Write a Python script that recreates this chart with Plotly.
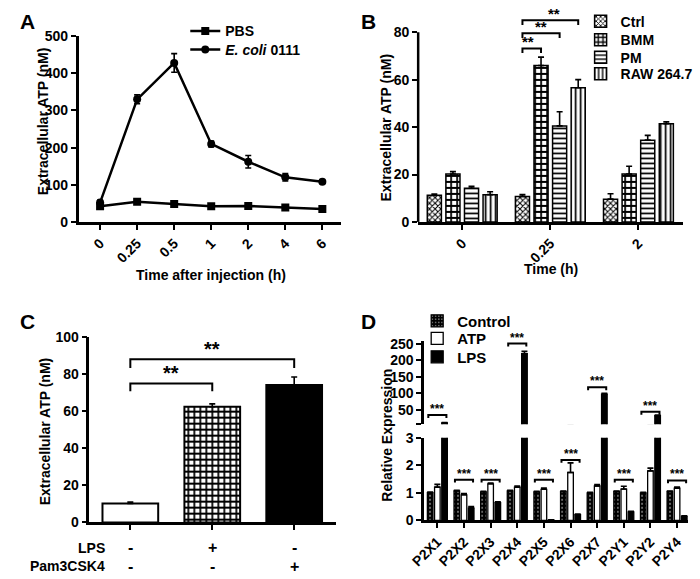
import plotly.graph_objects as go

FONT = "Liberation Sans, Arial, sans-serif"

# ---- panel A data ----
times_a = ["0", "0.25", "0.5", "1", "2", "4", "6"]
pbs = [42, 54, 48, 42, 43, 39, 35]
pbs_err = [3, 3, 3, 2, 2, 2, 2]
ecoli = [52, 330, 428, 210, 162, 120, 108]
ecoli_err = [6, 12, 25, 8, 17, 10, 4]

# ---- panel B data ----
times_b = ["0", "0.25", "2"]
b_names = ["Ctrl", "BMM", "PM", "RAW 264.7"]
b_ctrl = [11.2, 10.7, 9.6]
b_ctrl_err = [0.6, 0.8, 2.3]
b_bmm = [20.2, 66.0, 20.2]
b_bmm_err = [1.0, 3.5, 3.3]
b_pm = [14.2, 40.5, 34.5]
b_pm_err = [0.8, 6.0, 2.0]
b_raw = [11.5, 56.6, 41.4]
b_raw_err = [1.2, 3.4, 0.8]

# ---- panel C data ----
c_values = [10.2, 62.3, 74.0]
c_err = [0.8, 1.5, 4.3]
c_lps = ["-", "+", "-"]
c_pam = ["-", "-", "+"]

# ---- panel D data ----
receptors = ["P2X1", "P2X2", "P2X3", "P2X4", "P2X5", "P2X6", "P2X7", "P2Y1", "P2Y2", "P2Y4"]
d_control = [1.01, 1.07, 1.04, 1.07, 1.04, 1.05, 1.0, 1.05, 1.0, 1.05]
d_control_err = [0.02] * 10
d_atp = [1.21, 0.93, 1.33, 1.21, 1.13, 1.74, 1.25, 1.14, 1.8, 1.17]
d_atp_err = [0.1, 0.05, 0.03, 0.04, 0.05, 0.35, 0.05, 0.1, 0.1, 0.04]
d_lps = [10, 0.45, 0.65, 220, 0.02, 0.21, 97, 0.31, 32, 0.15]
d_lps_err = [1, 0.05, 0.03, 7, 0, 0.02, 3, 0.02, 2, 0.02]

W, H = 700, 579
fig = go.Figure()
legends = {}
leg_count = [0]


def new_legend(xc, yc, size):
    # one legend per entry so rows sit where the reference puts them
    leg_count[0] += 1
    name = "legend" if leg_count[0] == 1 else f"legend{leg_count[0]}"
    legends[name] = dict(x=(xc - 30) / W, y=1 - yc / H, xanchor="left", yanchor="middle",
                         bgcolor="rgba(0,0,0,0)", font=dict(size=size), borderwidth=0)
    return name


def up_err(err):
    return dict(type="data", array=err, arrayminus=[0] * len(err), symmetric=False,
                color="black", thickness=1.6, width=3)


# A: time course
for nm, vals, err, sym, yc in [("PBS", pbs, pbs_err, "square", 24),
                               ("<i>E. coli</i> 0111", ecoli, ecoli_err, "circle", 43)]:
    fig.add_trace(go.Scatter(
        x=list(range(len(times_a))), y=vals, name=nm, mode="lines+markers",
        line=dict(color="black", width=2.5), marker=dict(symbol=sym, size=8, color="black"),
        error_y=dict(type="data", array=err, color="black", thickness=1.6, width=3),
        xaxis="x", yaxis="y", legend=new_legend(204, yc, 14)))

# B: grouped patterned bars
b_series = [(b_ctrl, b_ctrl_err, "x", 4, 0.45), (b_bmm, b_bmm_err, "+", 6, 0.5),
            (b_pm, b_pm_err, "-", 5, 0.35), (b_raw, b_raw_err, "|", 5, 0.35)]
b_rows = [14, 33, 51, 68]
b_slot, b_w = 0.211, 0.16
for k, (vals, err, shp, sz, sol) in enumerate(b_series):
    fig.add_trace(go.Bar(
        x=list(range(len(times_b))), y=vals, name=b_names[k], width=b_w,
        offset=(k - 1.5) * b_slot - b_w / 2,
        marker=dict(color="white", line=dict(color="black", width=1.5),
                    pattern=dict(shape=shp, size=sz, solidity=sol, fgcolor="black",
                                 bgcolor="white", fillmode="replace")),
        error_y=up_err(err), xaxis="x2", yaxis="y2", legend=new_legend(608, b_rows[k], 14)))

# C: three bars, one trace each for its own fill
c_w = 0.68
c_styles = [("white", ""), ("white", "+"), ("black", "")]
for i, (col, shp) in enumerate(c_styles):
    fig.add_trace(go.Bar(
        x=[i], y=[c_values[i]], width=c_w, offset=-c_w / 2, showlegend=False,
        marker=dict(color=col, line=dict(color="black", width=2),
                    pattern=dict(shape=shp, size=6, solidity=0.5, fgcolor="black",
                                 bgcolor=col, fillmode="replace")),
        error_y=up_err([c_err[i]]), xaxis="x3", yaxis="y3"))

# D: broken-axis grouped bars (lower 0-3, upper segment)
d_slot, d_w = 0.27, 0.21
d_series = [("Control", d_control, d_control_err, "black", "."),
            ("ATP", d_atp, d_atp_err, "white", ""),
            ("LPS", d_lps, d_lps_err, "black", "")]
d_rows = [322, 340, 359]
for k, (nm, vals, err, col, shp) in enumerate(d_series):
    pat = dict(shape=shp, size=4, solidity=0.12, fgcolor="white", bgcolor=col, fillmode="replace")
    lg = new_legend(441, d_rows[k], 15)
    for ya, show in (("y4", True), ("y5", False)):
        fig.add_trace(go.Bar(
            x=list(range(len(receptors))), y=vals, name=nm, width=d_w,
            offset=(k - 1) * d_slot - d_w / 2, showlegend=show,
            marker=dict(color=col, line=dict(color="black", width=1.3), pattern=pat),
            error_y=up_err(err), xaxis="x4", yaxis=ya, legend=lg))

shapes = []
annotations = []


def bracket(xr, yr, x0, x1, y, leg, text, size, shift, xshift=0):
    shapes.append(dict(type="path", xref=xr, yref=yr,
                       path=f"M{x0},{y - leg} L{x0},{y} L{x1},{y} L{x1},{y - leg}",
                       line=dict(color="black", width=2)))
    annotations.append(dict(xref=xr, yref=yr, x=(x0 + x1) / 2, y=y, text=text, showarrow=False,
                            xanchor="center", yanchor="bottom", xshift=xshift,
                            font=dict(size=size, color="black"), yshift=shift))


# B significance (0.25 h group)
for k, y in zip([1, 2, 3], [73.2, 79.6, 85.1]):
    bracket("x2", "y2", 1 - 1.5 * b_slot, 1 + (k - 1.5) * b_slot, y, 2.0, "**", 15, -4,
            xshift=(k - 2) * 4)
# C significance
bracket("x3", "y3", 0, 1, 74.8, 4.2, "**", 20, -3)
bracket("x3", "y3", 0, 2, 87.8, 4.7, "**", 20, -3)
# D significance
d_br = [(0, 34, "y5"), (1, 1.48, "y4"), (2, 1.48, "y4"), (3, 251, "y5"), (4, 1.48, "y4"),
        (5, 2.19, "y4"), (6, 118, "y5"), (7, 1.48, "y4"), (8, 44, "y5"), (9, 1.45, "y4")]
for i, y, ya in d_br:
    leg = 0.1 if ya == "y4" else 9
    bracket("x4", ya, i - d_slot - 0.07, i + d_slot + 0.07, y, leg, "***", 12, -3)

# axis line for panel B drawn only up to 80
shapes.append(dict(type="line", xref="x2 domain", yref="y2", x0=0, x1=0, y0=0, y1=80,
                   line=dict(color="black", width=2.5)))

# C condition labels
for i in range(3):
    for signs, py in ((c_lps, 555), (c_pam, 574)):
        annotations.append(dict(xref="x3", yref="paper", x=i, y=1 - py / H, text=signs[i],
                                xanchor="center", yanchor="middle", showarrow=False,
                                font=dict(size=16)))
for txt, py in [("LPS", 555), ("Pam3CSK4", 574)]:
    annotations.append(dict(xref="paper", yref="paper", x=94 / W, y=1 - py / H, text=txt,
                            xanchor="right", yanchor="middle", showarrow=False, font=dict(size=14)))

# panel letters and axis titles
for txt, px, py in [("A", 3, 14), ("B", 352, 14), ("C", 3, 322), ("D", 352, 322)]:
    annotations.append(dict(xref="paper", yref="paper", x=px / W, y=1 - py / H, text=txt,
                            xanchor="left", yanchor="middle", showarrow=False, font=dict(size=21)))
for txt, px, py, ang in [("Extracellular ATP (nM)", 28, 116, -90),
                         ("Time after injection (h)", 200, 275, 0),
                         ("Extracellular ATP (nM)", 379, 123, -90),
                         ("Time (h)", 548, 268, 0),
                         ("Extracellular ATP (nM)", 31, 435, -90),
                         ("Relative Expression", 380, 439, -90)]:
    annotations.append(dict(xref="paper", yref="paper", x=px / W, y=1 - py / H, text=txt,
                            xanchor="center", yanchor="middle",
                            textangle=ang, showarrow=False, font=dict(size=14)))

ax = dict(showline=True, linecolor="black", linewidth=2.5, ticks="outside", tickwidth=2,
          ticklen=5, tickcolor="black", showgrid=False, zeroline=False,
          tickfont=dict(size=14, color="black"))


def px_dom(a, b):
    return [a / W, b / W]


def py_dom(bottom, top):
    return [1 - bottom / H, 1 - top / H]


fig.update_layout(
    width=W, height=H, autosize=False, margin=dict(l=0, r=0, t=0, b=0),
    paper_bgcolor="white", plot_bgcolor="white",
    font=dict(family=FONT, color="black", size=14, weight="bold"),
    barmode="overlay", shapes=shapes, annotations=annotations,
    xaxis=dict(ax, domain=px_dom(65, 333), range=[-0.58, 6.5], anchor="y",
               tickvals=list(range(len(times_a))), ticktext=times_a, tickangle=-45),
    yaxis=dict(ax, domain=py_dom(220, 29), range=[0, 500], anchor="x",
               tickvals=[0, 100, 200, 300, 400, 500]),
    xaxis2=dict(ax, domain=px_dom(412, 683), range=[-0.5, 2.51], anchor="y2",
                tickvals=list(range(len(times_b))), ticktext=times_b, tickangle=-45),
    yaxis2=dict(ax, domain=py_dom(220, 3), range=[0, 89], anchor="x2",
                tickvals=[0, 20, 40, 60, 80], showline=False),
    xaxis3=dict(ax, domain=px_dom(76, 328), range=[-0.5, 2.51], anchor="y3",
                tickvals=[0, 1, 2], showticklabels=False),
    yaxis3=dict(ax, domain=py_dom(529, 338), range=[0, 100], anchor="x3",
                tickvals=[0, 20, 40, 60, 80, 100]),
    xaxis4=dict(ax, domain=px_dom(418, 688), range=[-0.5, 9.42], anchor="y4",
                tickvals=list(range(len(receptors))), ticktext=receptors, tickangle=-45),
    yaxis4=dict(ax, domain=py_dom(527, 442), range=[0, 3], anchor="x4",
                tickvals=[0, 1, 2, 3]),
    yaxis5=dict(ax, domain=py_dom(428, 342), range=[6, 260], anchor="x4",
                tickvals=[6, 50, 100, 150, 200, 250],
                ticktext=["", "50", "100", "150", "200", "250"]),
    **legends,
)

fig.write_html("out.html", config={"displayModeBar": False},
               post_script="document.body.style.margin='0px';")
